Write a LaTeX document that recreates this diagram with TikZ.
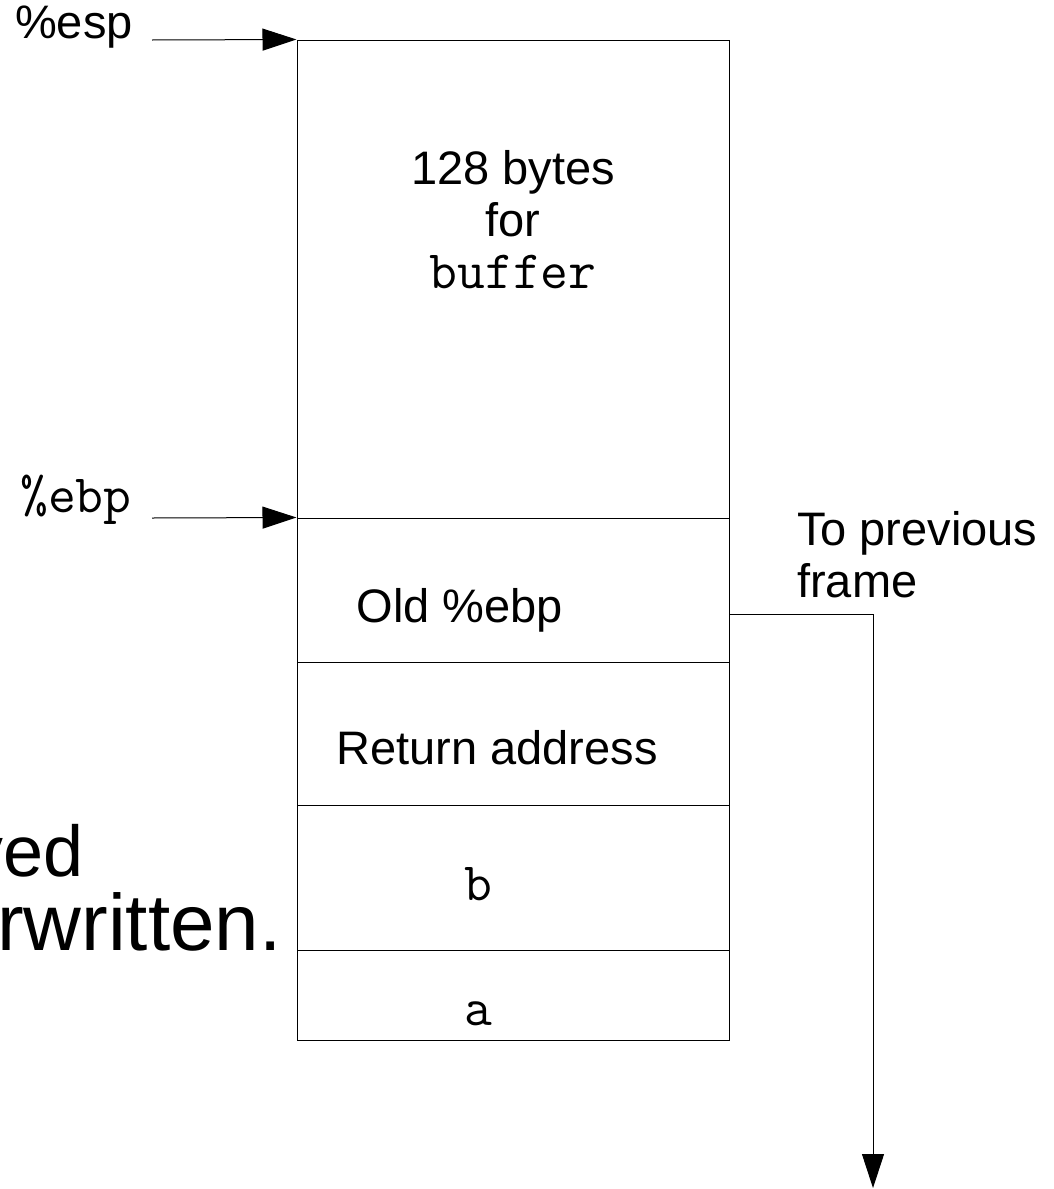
\documentclass[tikz,border=0pt]{standalone}
\usepackage{fontspec}
\setmainfont{Liberation Sans}
\usetikzlibrary{arrows.meta}

\tikzset{
  cell/.style={draw, line width=1pt, minimum width=432pt, inner sep=0pt},
  lbl/.style={font=\fontsize{47}{52}\selectfont, inner sep=0pt},
  codelbl/.style={font=\fontsize{54}{60}\selectfont\ttfamily, inner sep=0pt},
  biglbl/.style={font=\fontsize{72}{80}\selectfont, inner sep=0pt},
  ptr/.style={line width=1pt, -{Triangle[length=34pt,width=22pt]}}
}

\begin{document}
\begin{tikzpicture}[x=1pt,y=-1pt]
\useasboundingbox (0,0) rectangle (1053,1189);

% ---- stack cells ----
\node[cell, minimum height=478pt] (bufcell) at (513,279) {};
\node[cell, minimum height=144pt] (oldcell) at (513,590) {};
\node[cell, minimum height=143pt] (retcell) at (513,733.5) {};
\node[cell, minimum height=145pt] (bcell)   at (513,877.5) {};
\node[cell, minimum height=90pt]  (acell)   at (513,995) {};

% ---- cell contents ----
\node[lbl, align=center, anchor=base] (buftxt) at (513,288)
  {128 bytes\\for\\{\fontsize{54}{52}\selectfont\ttfamily buffer}};
\node[lbl, anchor=base] (oldtxt) at (460,622) {Old \%ebp};
\node[lbl, anchor=base] (rettxt) at (497,764) {Return address};
\node[codelbl, anchor=base] (btxt) at (478,900) {b};
\node[codelbl, anchor=base] (atxt) at (478,1025) {a};

% ---- registers ----
\node[lbl, anchor=base west] (esp) at (15,38) {\%esp};
\node[codelbl, anchor=base west] (ebp) at (20,512) {\%ebp};
\coordinate (espfrom) at (152,40);
\coordinate (ebpfrom) at (152,518);
\draw[ptr] (espfrom) -- (bufcell.north west);
\draw[ptr] (ebpfrom) -- (oldcell.north west);

% ---- link to previous frame ----
\node[lbl, align=left, anchor=base west] (prevtxt) at (797,597)
  {To previous\\frame};
\coordinate (prevend) at (873,1188);
\draw[ptr] ([yshift=-24pt]oldcell.east) -| (prevend);

% ---- clipped note on the left ----
\node[biglbl, anchor=base east] (note1) at (84,876) {ved};
\node[biglbl, font=\fontsize{80}{88}\selectfont, anchor=base west] (note2) at (-3,950) {rwritten.};

\end{tikzpicture}
\end{document}
